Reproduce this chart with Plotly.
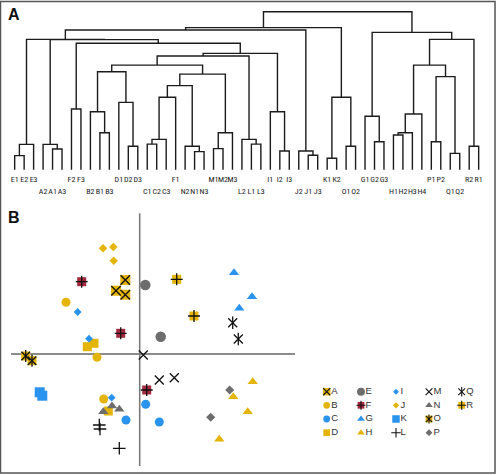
import plotly.graph_objects as go

# ---------------- Panel A: hierarchical clustering (dendrogram) ----------------
leaves = ["E1", "E2", "E3", "A2", "A1", "A3", "F2", "F3", "B2", "B1", "B3",
          "D1", "D2", "D3", "C1", "C2", "C3", "F1", "N2", "N1", "N3",
          "M1", "M2", "M3", "L2", "L1", "L3", "I1", "I2", "I3", "J2", "J1", "J3",
          "K1", "K2", "O1", "O2", "G1", "G2", "G3", "H1", "H2", "H3", "H4",
          "P1", "P2", "Q1", "Q2", "R2", "R1"]
label_group_sizes = [3, 3, 2, 3, 3, 3, 1, 3, 3, 3, 3, 3, 2, 2, 3, 4, 2, 2, 2]

merge_left = ["E1", "e12", "A1", "A2", "F2", "B1", "B2", "D2", "D1", "cB",
              "C1", "c12", "cC", "N1", "N2", "CF", "M1", "m12", "CFN", "BD",
              "L1", "L2", "g1", "I2", "I1", "g2", "F23", "cA", "cE", "J1",
              "J2", "g6", "K1", "O1", "cK", "g7", "G2", "G1", "H1", "h12",
              "h123", "P1", "Q1", "cP", "cH", "R2", "HPQ", "cG", "left"]
merge_right = ["E2", "E3", "A3", "a13", "F3", "B3", "b13", "D3", "d23", "cD",
               "C2", "C3", "F1", "N3", "n13", "cN", "M2", "M3", "cM", "CFNM",
               "L3", "l13", "cL", "I3", "i23", "cI", "g3", "g4", "g5", "J3",
               "j13", "cJ", "K2", "O2", "cO", "KO", "G3", "g23", "H2", "H3",
               "H4", "P2", "Q2", "cQ", "PQ", "R1", "cR", "HPQR", "right"]
merge_height = [0.089, 0.160, 0.131, 0.160, 0.384, 0.234, 0.367, 0.148, 0.426, 0.620,
                0.162, 0.192, 0.458, 0.114, 0.148, 0.532, 0.133, 0.234, 0.605, 0.662,
                0.162, 0.192, 0.719, 0.118, 0.367, 0.736, 0.800, 0.823, 0.825, 0.091,
                0.118, 0.884, 0.072, 0.148, 0.458, 0.899, 0.177, 0.338, 0.219, 0.234,
                0.352, 0.177, 0.103, 0.589, 0.662, 0.148, 0.825, 0.869, 1.000]
merge_name = ["e12", "cE", "a13", "cA", "F23", "b13", "cB", "d23", "cD", "BD",
              "c12", "cC", "CF", "n13", "cN", "CFN", "m12", "cM", "CFNM", "g1",
              "l13", "cL", "g2", "i23", "cI", "g3", "g4", "g5", "g6", "j13",
              "cJ", "g7", "cK", "cO", "KO", "left", "g23", "cG", "h12", "h123",
              "cH", "cP", "cQ", "PQ", "HPQ", "cR", "HPQR", "right", "root"]

# ---------------- Panel B: ordination scores per sample group ----------------
A_x = [-1.44, -2.37, -1.44];        A_y = [7.40, 6.33, 5.93]
B_x = [-7.37, -4.27, -3.60];        B_y = [5.17, -0.33, -4.50]
C_x = [0.60, -1.37, 1.96];          C_y = [-5.03, -6.60, -6.80]
D_x = [-5.24, -4.57, -3.14];        D_y = [0.73, 1.07, -5.70]
E_x = [0.56, 2.10];                 E_y = [6.90, 1.73]
F_x = [-5.80, -1.90, 0.70];         F_y = [7.23, 2.07, -3.60]
G_x = [9.43, 11.23, 9.96];          G_y = [8.13, 5.73, 4.57]
H_x = [11.30, 9.36, 10.80, 7.96];   H_y = [-2.77, -4.27, -5.77, -8.53]
I_x = [-6.20, -5.07, -2.80];        I_y = [4.20, 1.53, -4.37]
J_x = [-3.67, -2.64, -2.60];        J_y = [10.57, 10.70, 9.33]
K_x = [-10.00, -9.74];              K_y = [-3.83, -4.17]
L_x = [-4.04, -3.97, -2.04];        L_y = [-7.10, -7.50, -9.43]
M_x = [0.36, 1.96, 3.46];           M_y = [-0.10, -2.60, -2.37]
N_x = [-3.64, -2.77, -2.04];        N_y = [-5.77, -5.20, -5.53]
O_x = [-11.40, -10.77];             O_y = [-0.20, -0.67]
P_x = [9.00, 7.10];                 P_y = [-3.60, -6.33]
Q_x = [9.30, 9.86];                 Q_y = [3.13, 1.50]
R_x = [3.70, 5.43];                 R_y = [7.47, 3.80]

group_names = ["A", "B", "C", "D", "E", "F", "G", "H", "I", "J", "K", "L",
               "M", "N", "O", "P", "Q", "R"]
group_xs = [A_x, B_x, C_x, D_x, E_x, F_x, G_x, H_x, I_x, J_x, K_x, L_x,
            M_x, N_x, O_x, P_x, Q_x, R_x]
group_ys = [A_y, B_y, C_y, D_y, E_y, F_y, G_y, H_y, I_y, J_y, K_y, L_y,
            M_y, N_y, O_y, P_y, Q_y, R_y]

# ---------------- styles ----------------
GOLD = "#E4B408"
BLUE = "#2A93EE"
GRAY = "#6D6D6D"
CRIM = "#A3283F"
BLK = "#111111"
styles = {
    "A": ("square", GOLD, 10, ["x-thin-open"]),
    "B": ("circle", GOLD, 9, []),
    "C": ("circle", BLUE, 9, []),
    "D": ("square", GOLD, 9, []),
    "E": ("circle", GRAY, 10.5, []),
    "F": ("square", CRIM, 9, ["cross-thin-open"]),
    "G": ("triangle-up", BLUE, 9, []),
    "H": ("triangle-up", GOLD, 9, []),
    "I": ("diamond", BLUE, 6, []),
    "J": ("diamond", GOLD, 6.5, []),
    "K": ("square", BLUE, 10, []),
    "L": (None, BLK, 9, ["cross-thin-open"]),
    "M": (None, BLK, 9, ["x-thin-open"]),
    "N": ("triangle-up", GRAY, 9, []),
    "O": ("square", GOLD, 9, ["x-thin-open", "line-ns-open"]),
    "P": ("diamond", GRAY, 7, []),
    "Q": (None, BLK, 9, ["x-thin-open", "line-ns-open"]),
    "R": ("square", GOLD, 9, ["cross-thin-open"]),
}

fig = go.Figure()

node = {name: (float(i), 0.0) for i, name in enumerate(leaves)}
dx, dy = [], []
for a, b, h, n in zip(merge_left, merge_right, merge_height, merge_name):
    xa, ha = node[a]
    xb, hb = node[b]
    dx += [xa, xa, xb, xb, None]
    dy += [ha, h, h, hb, None]
    node[n] = ((xa + xb) / 2.0, h)
fig.add_trace(go.Scatter(x=dx, y=dy, mode="lines",
                         line=dict(color="#1c1c1c", width=1.4),
                         xaxis="x", yaxis="y", hoverinfo="skip", showlegend=False))

row_of_leaf = []
for gi, size in enumerate(label_group_sizes):
    row_of_leaf += [gi % 2] * size
row_y = [-0.066, -0.142]
LABEL_FONT = "Liberation Sans Narrow, Roboto Condensed, DejaVu Sans Condensed, Roboto, Arial"
for r in (0, 1):
    idx = [i for i, rr in enumerate(row_of_leaf) if rr == r]
    fig.add_trace(go.Scatter(
        x=idx, y=[row_y[r]] * len(idx), text=[leaves[i] for i in idx],
        mode="text", textposition="middle center",
        textfont=dict(family=LABEL_FONT, size=8, color="#222222"),
        xaxis="x", yaxis="y", hoverinfo="skip", showlegend=False))


def add_group(xs, ys, g, size_scale=1.0):
    base, color, size, overs = styles[g]
    size = size * size_scale
    if base is not None:
        fig.add_trace(go.Scatter(
            x=xs, y=ys, mode="markers",
            marker=dict(symbol=base, color=color, size=size, line=dict(width=0)),
            xaxis="x2", yaxis="y2", hoverinfo="skip", showlegend=False))
    for over in overs:
        fig.add_trace(go.Scatter(
            x=xs, y=ys, mode="markers",
            marker=dict(symbol=over, color=BLK, size=size * (0.95 if base else 1.0),
                        line=dict(color=BLK, width=1.3 if size_scale == 1.0 else 1.1)),
            xaxis="x2", yaxis="y2", hoverinfo="skip", showlegend=False))


for g, xs, ys in zip(group_names, group_xs, group_ys):
    add_group(xs, ys, g)

legend_cols_x = [18.7, 22.13, 25.63, 28.93, 32.2]
legend_rows_y = [-3.77, -5.13, -6.50, -7.87]
for k, g in enumerate(group_names):
    c, r = divmod(k, 4)
    add_group([legend_cols_x[c]], [legend_rows_y[r]], g, size_scale=0.75)
    fig.add_trace(go.Scatter(
        x=[legend_cols_x[c] + 0.45], y=[legend_rows_y[r]], mode="text", text=[g],
        textposition="middle right",
        textfont=dict(family="Liberation Sans, Arial", size=9.5, color="#333333"),
        xaxis="x2", yaxis="y2", hoverinfo="skip", showlegend=False))

shapes = [
    dict(type="line", xref="x2", yref="y2", x0=-12.87, x1=15.53, y0=0, y1=0,
         line=dict(color="#1a1a1a", width=1.2), layer="below"),
    dict(type="line", xref="x2", yref="y2", x0=0, x1=0, y0=-11.2, y1=14.07,
         line=dict(color="#7a7a7a", width=1.6), layer="below"),
    dict(type="rect", xref="paper", yref="paper", x0=0.001, x1=0.998, y0=0.004, y1=0.997,
         line=dict(color="#555555", width=1.5)),
]

annotations = [
    dict(text="<b>A</b>", x=14 / 496, y=1 - 15 / 475, xref="paper", yref="paper",
         showarrow=False, font=dict(family="Liberation Sans, Arial", size=16, color="#111111"),
         xanchor="center", yanchor="middle"),
    dict(text="<b>B</b>", x=14 / 496, y=1 - 217 / 475, xref="paper", yref="paper",
         showarrow=False, font=dict(family="Liberation Sans, Arial", size=16, color="#111111"),
         xanchor="center", yanchor="middle"),
]

split = 1 - 205 / 475
fig.update_layout(
    width=496, height=475, margin=dict(l=0, r=0, t=0, b=0),
    paper_bgcolor="white", plot_bgcolor="white", showlegend=False,
    xaxis=dict(domain=[0, 1], range=[-1.549, 50.83], visible=False, anchor="y"),
    yaxis=dict(domain=[split, 1], range=[-0.2236, 1.0739], visible=False, anchor="x"),
    xaxis2=dict(domain=[0, 1], range=[-13.97, 35.63], visible=False, anchor="y2"),
    yaxis2=dict(domain=[0, split], range=[-12.1, 14.9], visible=False, anchor="x2"),
    shapes=shapes, annotations=annotations,
)

fig.write_html("out.html", config={"displayModeBar": False},
               post_script="document.body.style.margin='0';document.body.style.overflow='hidden';")
